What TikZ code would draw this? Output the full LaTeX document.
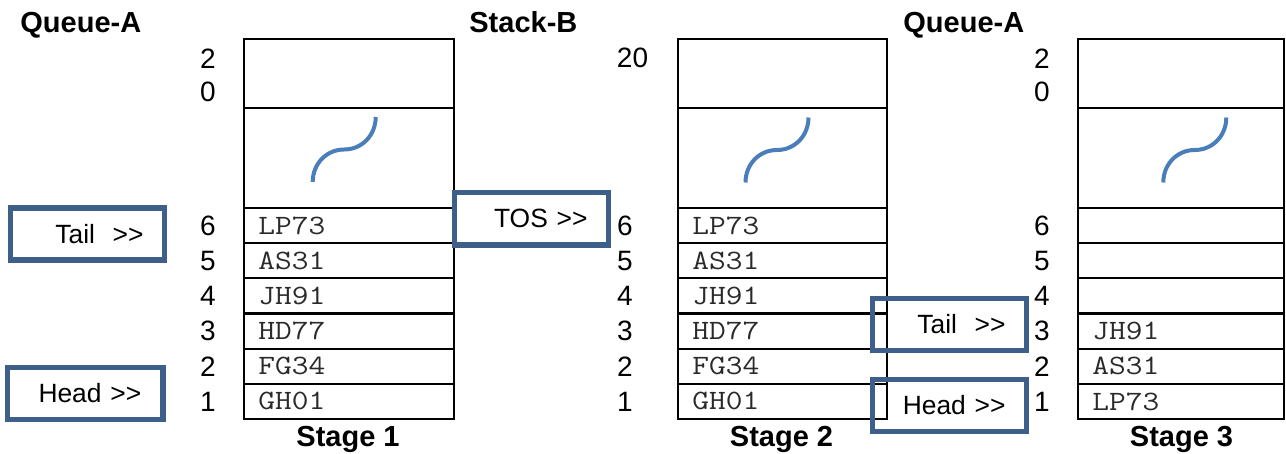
\documentclass[tikz,border=0pt]{standalone}
\usepackage{fontspec}
\setmainfont{Liberation Sans}[Ligatures=TeXOff]
\definecolor{pointerblue}{HTML}{3E5F8A}
\definecolor{waveblue}{HTML}{4A7EBB}
\definecolor{cellink}{HTML}{2A2A2A}
\tikzset{
  frame/.style={draw=black, line width=1.1pt},
  pointer/.style={draw=pointerblue, line width=2.6pt, minimum width=77pt,
    minimum height=26pt, text width=56pt, align=right, inner xsep=10.5pt,
    inner ysep=0pt, font=\fontsize{13.2}{15}\selectfont},
  heading/.style={font=\bfseries\fontsize{14.5}{16}\selectfont, inner sep=0pt},
  slotno/.style={font=\fontsize{14}{16}\selectfont, inner sep=0pt},
  item/.style={font=\ttfamily\fontsize{14}{16}\selectfont, text=cellink,
    inner sep=0pt, anchor=west},
  wave/.style={draw=waveblue, line width=2pt},
}
% a slot entry, set in a widened typewriter face
\newcommand\entry[1]{\scalebox{1.16}[1]{#1}}
% outline of one storage column: top slot, elided gap, six numbered slots
\newcommand\stageframe[2]{%
  \draw[frame] (#1,39) rectangle (#2,419);
  \draw[frame] (#1,108) -- (#2,108);
  \foreach \k in {0,...,5} {\draw[frame] (#1,{208+\k*35.1667}) -- (#2,{208+\k*35.1667});}
}
% the "break" squiggle in the elided part of a column
\newcommand\breakmark[2]{%
  \draw[wave] (#1,#2) .. controls +(0,-18) and +(-18,0) .. ++(31.5,-32.5)
                      .. controls +(18,0) and +(0,18) .. ++(31.5,-32.5);
}
\begin{document}
\begin{tikzpicture}[x=0.5pt,y=-0.5pt]
\useasboundingbox (0,0) rectangle (1286,454);

% headings
\node[heading, anchor=base west] (hA1) at (20,33) {Queue-A};
\node[heading, anchor=base west] (hB) at (469,33) {Stack-B};
\node[heading, anchor=base west] (hA3) at (903,33) {Queue-A};

% columns
\stageframe{244}{454}
\stageframe{678}{887}
\stageframe{1078}{1284}
\breakmark{312.7}{182}
\breakmark{745.5}{182.5}
\breakmark{1163.3}{182.5}

% column captions
\node[heading, anchor=base] (st1) at (348,446) {Stage 1};
\node[heading, anchor=base] (st2) at (781.5,446) {Stage 2};
\node[heading, anchor=base] (st3) at (1181.5,446) {Stage 3};

% slot numbers
\node[slotno] (n1-20a) at (208,59) {2};
\node[slotno] (n1-20b) at (208,92) {0};
\node[slotno] (n2-20) at (632.5,58) {20};
\node[slotno] (n3-20a) at (1042,59) {2};
\node[slotno] (n3-20b) at (1042,92) {0};
\foreach \i in {1,...,6} {
  \node[slotno] (n1-\i) at (208,{419-(\i-0.5)*35.1667}) {\i};
  \node[slotno] (n2-\i) at (625,{419-(\i-0.5)*35.1667}) {\i};
  \node[slotno] (n3-\i) at (1042,{419-(\i-0.5)*35.1667}) {\i};
}

% contents
\foreach \i/\t in {1/GH01,2/FG34,3/HD77,4/JH91,5/AS31,6/LP73} {
  \node[item] (a-\i) at (258,{419-(\i-0.5)*35.1667}) {\entry{\t}};
  \node[item] (b-\i) at (692,{419-(\i-0.5)*35.1667}) {\entry{\t}};
}
\foreach \i/\t in {1/LP73,2/AS31,3/JH91} {
  \node[item] (c-\i) at (1092,{419-(\i-0.5)*35.1667}) {\entry{\t}};
}

% pointers
\node[pointer] (tail1) at (87.5,234) {Tail~~>>};
\node[pointer, minimum width=77.75pt] (head1) at (85.25,393.5) {Head >>};
\node[pointer, minimum height=26.25pt] (tos) at (531.5,218.75) {TOS >>};
\node[pointer] (tail3) at (949.5,324.5) {Tail~~>>};
\node[pointer] (head3) at (949.5,405.5) {Head >>};
\end{tikzpicture}
\end{document}
